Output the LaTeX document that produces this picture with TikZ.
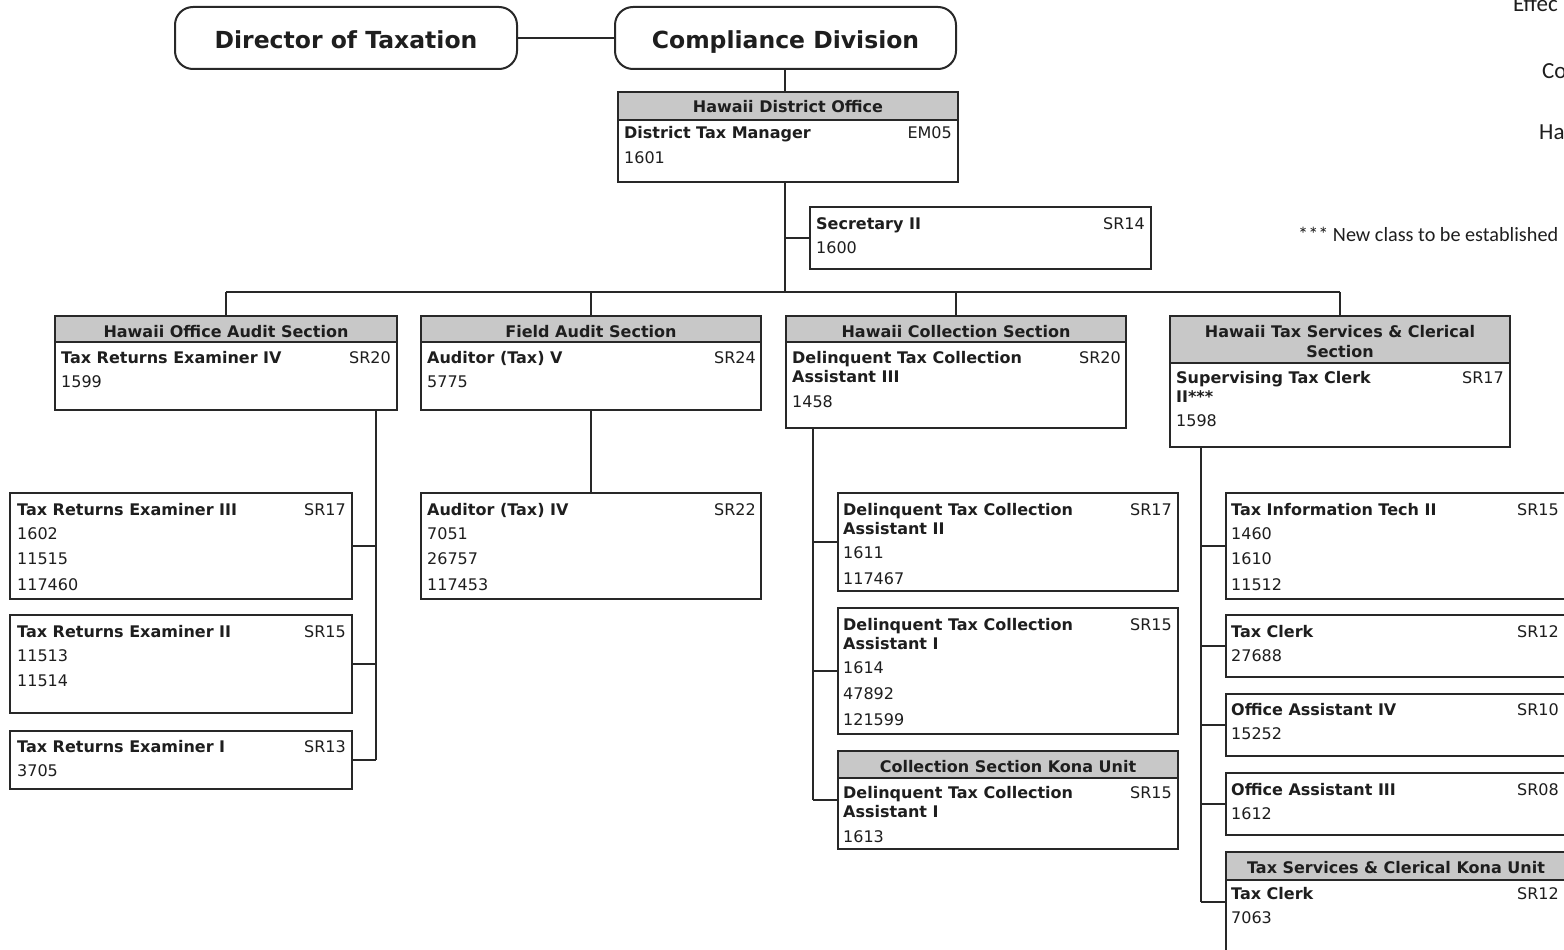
\documentclass[tikz,border=0pt]{standalone}
\usepackage{fontspec}
\setmainfont{DejaVu Sans}
\newfontfamily\calib{Carlito}
\definecolor{linec}{RGB}{40,40,40}
\definecolor{hdrg}{RGB}{200,200,200}
\definecolor{txtc}{RGB}{30,30,30}
\begin{document}
\begin{tikzpicture}[x=1pt,y=-1pt,
  box/.style={draw=linec, line width=2pt, fill=white, rectangle, inner sep=0pt, outer sep=0pt, anchor=north west},
  hdr/.style={box, fill=hdrg},
  htx/.style={font=\bfseries\fontsize{16}{20}\selectfont, inner sep=0pt, anchor=base, text=txtc},
  rbox/.style={draw=linec, line width=2pt, rounded corners=18pt, fill=white, inner sep=0pt, outer sep=0pt, anchor=north west, font=\bfseries\fontsize{23.5}{28}\selectfont, text=txtc, text height=22pt, text depth=0pt},
  ttl/.style={font=\bfseries\fontsize{16}{19}\selectfont, inner sep=0pt, anchor=base west, text=txtc},
  num/.style={font=\fontsize{16}{19}\selectfont, inner sep=0pt, anchor=base west, text=txtc},
  grd/.style={num, anchor=base east},
  note/.style={font=\calib\fontsize{20.2}{22}\selectfont, inner sep=0pt, anchor=base west, text=txtc},
  big/.style={font=\calib\fontsize{23}{26}\selectfont, inner sep=0pt, anchor=base west, text=txtc},
  conn/.style={draw=linec, line width=2pt}]
\useasboundingbox (0,0) rectangle (1564,950);
\clip (0,0) rectangle (1564,950);
\fill[white] (0,0) rectangle (1564,950);

% top-level rounded boxes
\node[rbox, minimum width=342, minimum height=62] (dir) at (175,7) {Director of Taxation};
\node[rbox, minimum width=341, minimum height=62] (comp) at (615,7) {Compliance Division};

% Hawaii District Office
\node[box, minimum width=340, minimum height=90] (hdo) at (618,92) {};
\node[hdr, minimum width=340, minimum height=28] (hdoh) at (618,92) {};
\node[htx] (hdoht) at (788,113) {Hawaii District Office};
\node[ttl] (hdot) at (624,138) {District Tax Manager};
\node[grd] (hdog) at (952,138) {EM05};
\node[num] (hdoa) at (624,163) {1601};

% Secretary
\node[box, minimum width=341, minimum height=62] (sec) at (810,207) {};
\node[ttl] (sect) at (816,229) {Secretary II};
\node[grd] (secg) at (1145,229) {SR14};
\node[num] (seca) at (816,253) {1600};

% Sections
\node[box, minimum width=342, minimum height=94] (s1) at (55,316) {};
\node[hdr, minimum width=342, minimum height=26] (s1h) at (55,316) {};
\node[htx] (s1ht) at (226,337) {Hawaii Office Audit Section};
\node[ttl] (s1t) at (61,363) {Tax Returns Examiner IV};
\node[grd] (s1g) at (391,363) {SR20};
\node[num] (s1a) at (61,387) {1599};

\node[box, minimum width=340, minimum height=94] (s2) at (421,316) {};
\node[hdr, minimum width=340, minimum height=26] (s2h) at (421,316) {};
\node[htx] (s2ht) at (591,337) {Field Audit Section};
\node[ttl] (s2t) at (427,363) {Auditor (Tax) V};
\node[grd] (s2g) at (756,363) {SR24};
\node[num] (s2a) at (427,387) {5775};

\node[box, minimum width=340, minimum height=112] (s3) at (786,316) {};
\node[hdr, minimum width=340, minimum height=26] (s3h) at (786,316) {};
\node[htx] (s3ht) at (956,337) {Hawaii Collection Section};
\node[ttl] (s3t) at (792,363) {Delinquent Tax Collection};
\node[ttl] (s3u) at (792,382) {Assistant III};
\node[grd] (s3g) at (1121,363) {SR20};
\node[num] (s3a) at (792,407) {1458};

\node[box, minimum width=340, minimum height=131] (s4) at (1170,316) {};
\node[hdr, minimum width=340, minimum height=47] (s4h) at (1170,316) {};
\node[htx] (s4ht) at (1340,337) {Hawaii Tax Services \& Clerical};
\node[htx] (s4hu) at (1340,357) {Section};
\node[ttl] (s4t) at (1176,383) {Supervising Tax Clerk};
\node[ttl] (s4u) at (1176,402) {II***};
\node[grd] (s4g) at (1504,383) {SR17};
\node[num] (s4a) at (1176,426) {1598};

% Column 1
\node[box, minimum width=342, minimum height=106] (c11) at (10,493) {};
\node[ttl] (c11t) at (17,515) {Tax Returns Examiner III};
\node[grd] (c11g) at (346,515) {SR17};
\node[num] (c11a) at (17,539) {1602};
\node[num] (c11b) at (17,564) {11515};
\node[num] (c11c) at (17,590) {117460};

\node[box, minimum width=342, minimum height=98] (c12) at (10,615) {};
\node[ttl] (c12t) at (17,637) {Tax Returns Examiner II};
\node[grd] (c12g) at (346,637) {SR15};
\node[num] (c12a) at (17,661) {11513};
\node[num] (c12b) at (17,686) {11514};

\node[box, minimum width=342, minimum height=58] (c13) at (10,731) {};
\node[ttl] (c13t) at (17,752) {Tax Returns Examiner I};
\node[grd] (c13g) at (346,752) {SR13};
\node[num] (c13a) at (17,776) {3705};

% Column 2
\node[box, minimum width=340, minimum height=106] (c21) at (421,493) {};
\node[ttl] (c21t) at (427,515) {Auditor (Tax) IV};
\node[grd] (c21g) at (756,515) {SR22};
\node[num] (c21a) at (427,539) {7051};
\node[num] (c21b) at (427,564) {26757};
\node[num] (c21c) at (427,590) {117453};

% Column 3
\node[box, minimum width=340, minimum height=98] (c31) at (838,493) {};
\node[ttl] (c31t) at (843,515) {Delinquent Tax Collection};
\node[ttl] (c31u) at (843,534) {Assistant II};
\node[grd] (c31g) at (1172,515) {SR17};
\node[num] (c31a) at (843,558) {1611};
\node[num] (c31b) at (843,584) {117467};

\node[box, minimum width=340, minimum height=126] (c32) at (838,608) {};
\node[ttl] (c32t) at (843,630) {Delinquent Tax Collection};
\node[ttl] (c32u) at (843,649) {Assistant I};
\node[grd] (c32g) at (1172,630) {SR15};
\node[num] (c32a) at (843,673) {1614};
\node[num] (c32b) at (843,699) {47892};
\node[num] (c32c) at (843,725) {121599};

\node[box, minimum width=340, minimum height=98] (c33) at (838,751) {};
\node[hdr, minimum width=340, minimum height=27] (c33h) at (838,751) {};
\node[htx] (c33ht) at (1008,772) {Collection Section Kona Unit};
\node[ttl] (c33t) at (843,798) {Delinquent Tax Collection};
\node[ttl] (c33u) at (843,817) {Assistant I};
\node[grd] (c33g) at (1172,798) {SR15};
\node[num] (c33a) at (843,842) {1613};

% Column 4
\node[box, minimum width=342, minimum height=106] (c41) at (1226,493) {};
\node[ttl] (c41t) at (1231,515) {Tax Information Tech II};
\node[grd] (c41g) at (1559,515) {SR15};
\node[num] (c41a) at (1231,539) {1460};
\node[num] (c41b) at (1231,564) {1610};
\node[num] (c41c) at (1231,590) {11512};

\node[box, minimum width=342, minimum height=62] (c42) at (1226,615) {};
\node[ttl] (c42t) at (1231,637) {Tax Clerk};
\node[grd] (c42g) at (1559,637) {SR12};
\node[num] (c42a) at (1231,661) {27688};

\node[box, minimum width=342, minimum height=62] (c43) at (1226,694) {};
\node[ttl] (c43t) at (1231,715) {Office Assistant IV};
\node[grd] (c43g) at (1559,715) {SR10};
\node[num] (c43a) at (1231,739) {15252};

\node[box, minimum width=342, minimum height=62] (c44) at (1226,773) {};
\node[ttl] (c44t) at (1231,795) {Office Assistant III};
\node[grd] (c44g) at (1559,795) {SR08};
\node[num] (c44a) at (1231,819) {1612};

\node[box, minimum width=342, minimum height=100] (c45) at (1226,852) {};
\node[hdr, minimum width=342, minimum height=28] (c45h) at (1226,852) {};
\node[htx] (c45ht) at (1396,873) {Tax Services \& Clerical Kona Unit};
\node[ttl] (c45t) at (1231,899) {Tax Clerk};
\node[grd] (c45g) at (1559,899) {SR12};
\node[num] (c45a) at (1231,923) {7063};

% notes (cut at the page edge, as in the reference)
\node[big] (eff) at (1513,12) {Effec};
\node[big] (co) at (1542,78) {Co};
\node[big] (ha) at (1539,139) {Ha};
\node[note] (nc) at (1298,241) {*** New class to be established};

% connectors
\coordinate (bus) at (785,292);
\coordinate (v1) at (376,0);
\coordinate (v3) at (813,0);
\coordinate (v4) at (1201,0);
\draw[conn] (dir.east) -- (comp.west);
\draw[conn] (bus |- comp.south) -- (bus |- hdo.north);
\draw[conn] (bus |- hdo.south) -- (bus);
\draw[conn] (sec.west) -- (sec.west -| bus);
\draw[conn] (s1.north |- bus) -- (s4.north |- bus);
\draw[conn] (s1.north |- bus) -- (s1.north);
\draw[conn] (s2.north |- bus) -- (s2.north);
\draw[conn] (s3.north |- bus) -- (s3.north);
\draw[conn] (s4.north |- bus) -- (s4.north);
% column 1
\draw[conn] (s1.south -| v1) -- (c13.east -| v1);
\draw[conn] (c11.east) -- (c11.east -| v1);
\draw[conn] (c12.east) -- (c12.east -| v1);
\draw[conn] (c13.east) -- (c13.east -| v1);
% column 2
\draw[conn] (s2.south) -- (c21.north);
% column 3
\draw[conn] (s3.south -| v3) -- (c33.west -| v3);
\draw[conn] (c31.west) -- (c31.west -| v3);
\draw[conn] (c32.west) -- (c32.west -| v3);
\draw[conn] (c33.west) -- (c33.west -| v3);
% column 4
\draw[conn] (s4.south -| v4) -- (c45.west -| v4);
\draw[conn] (c41.west) -- (c41.west -| v4);
\draw[conn] (c42.west) -- (c42.west -| v4);
\draw[conn] (c43.west) -- (c43.west -| v4);
\draw[conn] (c44.west) -- (c44.west -| v4);
\draw[conn] (c45.west) -- (c45.west -| v4);
\end{tikzpicture}
\end{document}
